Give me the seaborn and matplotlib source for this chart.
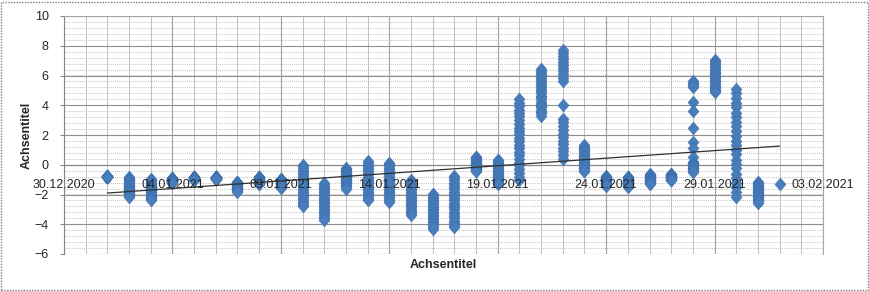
import numpy as np
import pandas as pd
import matplotlib
matplotlib.use("Agg")
import matplotlib.pyplot as plt
import matplotlib.dates as mdates
from matplotlib.path import Path
from matplotlib.patches import Rectangle
import seaborn as sns

# ---------------- data (hourly readings, grouped by day) ----------------
day_dates = [
    "2021-01-01", "2021-01-02", "2021-01-03", "2021-01-04", "2021-01-05",
    "2021-01-06", "2021-01-07", "2021-01-08", "2021-01-09", "2021-01-10",
    "2021-01-11", "2021-01-12", "2021-01-13", "2021-01-14", "2021-01-15",
    "2021-01-16", "2021-01-17", "2021-01-18", "2021-01-19", "2021-01-20",
    "2021-01-21", "2021-01-22", "2021-01-23", "2021-01-24", "2021-01-25",
    "2021-01-26", "2021-01-27", "2021-01-28", "2021-01-29", "2021-01-30",
    "2021-01-31", "2021-02-01",
]
day_values = [
    [-0.75, -0.75, -0.8, -0.8, -0.8, -0.85, -0.85, -0.8, -0.8, -0.75, -0.8, -0.8,
     -0.85, -0.8, -0.8, -0.75, -0.8, -0.85, -0.8, -0.8, -0.75, -0.8, -0.8, -0.85],
    [-0.85, -0.9, -0.95, -1.0, -1.05, -1.1, -1.15, -1.2, -1.3, -1.35, -1.4, -1.45,
     -1.5, -1.55, -1.6, -1.65, -1.7, -1.8, -1.85, -1.9, -1.95, -2.0, -2.1, -2.15],
    [-0.95, -1.0, -1.05, -1.1, -1.2, -1.25, -1.3, -1.35, -1.45, -1.5, -1.55, -1.6,
     -1.7, -1.75, -1.8, -1.85, -1.95, -2.0, -2.05, -2.1, -2.2, -2.25, -2.3, -2.35],
    [-0.9, -0.9, -0.9, -0.95, -0.95, -0.95, -0.95, -1.0, -1.0, -1.0, -1.0, -1.05,
     -1.05, -1.05, -1.05, -1.1, -1.1, -1.1, -1.1, -1.15, -1.15, -1.15, -1.2, -1.2],
    [-0.8, -0.8, -0.8, -0.8, -0.85, -0.85, -0.85, -0.85, -0.85, -0.9, -0.9, -0.9,
     -0.9, -0.9, -0.9, -0.95, -0.95, -0.95, -0.95, -0.95, -1.0, -1.0, -1.0, -1.0],
    [-0.85, -0.85, -0.85, -0.85, -0.85, -0.85, -0.85, -0.85, -0.9, -0.9, -0.9, -0.9,
     -0.9, -0.9, -0.9, -0.9, -0.95, -0.95, -0.95, -0.95, -0.95, -0.95, -0.95, -0.95],
    [-1.15, -1.15, -1.2, -1.2, -1.25, -1.25, -1.3, -1.3, -1.35, -1.35, -1.4, -1.45,
     -1.5, -1.5, -1.55, -1.55, -1.6, -1.6, -1.65, -1.65, -1.7, -1.7, -1.75, -1.8],
    [-0.8, -0.8, -0.85, -0.85, -0.9, -0.9, -0.95, -0.95, -1.0, -1.0, -1.0, -1.05,
     -1.05, -1.1, -1.1, -1.1, -1.15, -1.15, -1.2, -1.2, -1.25, -1.25, -1.3, -1.3],
    [-0.95, -0.95, -1.0, -1.0, -1.05, -1.05, -1.1, -1.1, -1.15, -1.15, -1.2, -1.2,
     -1.25, -1.25, -1.3, -1.3, -1.35, -1.35, -1.4, -1.4, -1.45, -1.5, -1.5, -1.55],
    [0.0, -0.1, -0.25, -0.35, -0.5, -0.6, -0.75, -0.85, -0.95, -1.1, -1.2, -1.35,
     -1.45, -1.6, -1.7, -1.8, -1.95, -2.05, -2.2, -2.3, -2.45, -2.55, -2.7, -2.8],
    [-1.2, -1.3, -1.4, -1.55, -1.65, -1.75, -1.85, -1.95, -2.05, -2.2, -2.3, -2.4,
     -2.5, -2.6, -2.7, -2.85, -2.95, -3.05, -3.15, -3.25, -3.35, -3.5, -3.6, -3.7],
    [-0.25, -0.3, -0.35, -0.4, -0.5, -0.55, -0.6, -0.65, -0.7, -0.75, -0.8, -0.9,
     -0.95, -1.0, -1.05, -1.1, -1.15, -1.2, -1.25, -1.35, -1.4, -1.45, -1.5, -1.6],
    [0.25, 0.15, 0.0, -0.1, -0.2, -0.3, -0.45, -0.55, -0.65, -0.8, -0.9, -1.0,
     -1.15, -1.25, -1.35, -1.5, -1.6, -1.7, -1.8, -1.95, -2.05, -2.15, -2.3, -2.4],
    [0.15, 0.05, -0.1, -0.2, -0.3, -0.45, -0.55, -0.65, -0.75, -0.9, -1.0, -1.1,
     -1.25, -1.35, -1.45, -1.6, -1.7, -1.8, -1.9, -2.05, -2.15, -2.25, -2.4, -2.5],
    [-1.0, -1.1, -1.2, -1.3, -1.4, -1.5, -1.6, -1.7, -1.85, -1.95, -2.05, -2.15,
     -2.25, -2.35, -2.45, -2.55, -2.65, -2.75, -2.85, -2.95, -3.1, -3.2, -3.3, -3.4],
    [-1.95, -2.05, -2.15, -2.25, -2.35, -2.45, -2.55, -2.65, -2.75, -2.85, -2.95, -3.05,
     -3.15, -3.25, -3.35, -3.45, -3.55, -3.65, -3.75, -3.85, -3.95, -4.05, -4.2, -4.3],
    [-0.75, -0.9, -1.05, -1.2, -1.35, -1.5, -1.65, -1.8, -1.95, -2.1, -2.25, -2.4,
     -2.55, -2.7, -2.85, -3.0, -3.15, -3.3, -3.45, -3.6, -3.75, -3.9, -4.05, -4.2],
    [0.55, 0.5, 0.45, 0.4, 0.35, 0.3, 0.25, 0.2, 0.15, 0.1, 0.05, 0.05,
     0.0, -0.05, -0.1, -0.15, -0.2, -0.25, -0.3, -0.3, -0.35, -0.4, -0.4, -0.45],
    [0.35, 0.3, 0.2, 0.15, 0.05, 0.0, -0.1, -0.15, -0.25, -0.3, -0.4, -0.45,
     -0.55, -0.6, -0.7, -0.75, -0.85, -0.9, -1.0, -1.05, -1.1, -1.2, -1.25, -1.3],
    [4.4, 4.15, 3.95, 3.7, 3.45, 3.25, 3.0, 2.75, 2.5, 2.3, 2.05, 1.8,
     1.6, 1.35, 1.1, 0.85, 0.65, 0.4, 0.15, -0.05, -0.3, -0.55, -0.8, -1.0],
    [6.45, 6.3, 6.2, 6.05, 5.9, 5.75, 5.65, 5.5, 5.35, 5.2, 5.1, 4.95,
     4.8, 4.65, 4.55, 4.4, 4.25, 4.1, 3.95, 3.85, 3.7, 3.55, 3.45, 3.3],
    [7.7, 7.5, 7.3, 7.1, 6.9, 6.7, 6.5, 6.3, 6.1, 5.85, 5.6, 4.0,
     3.1, 2.85, 2.6, 2.35, 2.1, 1.85, 1.6, 1.4, 1.15, 0.9, 0.65, 0.4],
    [1.3, 1.2, 1.15, 1.05, 1.0, 0.9, 0.85, 0.75, 0.65, 0.6, 0.5, 0.45,
     0.35, 0.3, 0.2, 0.1, 0.05, -0.05, -0.1, -0.2, -0.25, -0.35, -0.4, -0.45],
    [-0.75, -0.8, -0.8, -0.85, -0.85, -0.9, -0.9, -0.95, -0.95, -1.0, -1.0, -1.05,
     -1.05, -1.1, -1.1, -1.15, -1.15, -1.2, -1.25, -1.25, -1.3, -1.3, -1.35, -1.4],
    [-0.8, -0.85, -0.85, -0.9, -0.9, -0.95, -1.0, -1.0, -1.05, -1.05, -1.1, -1.15,
     -1.15, -1.2, -1.2, -1.25, -1.3, -1.3, -1.35, -1.35, -1.4, -1.45, -1.45, -1.5],
    [-0.65, -0.7, -0.7, -0.75, -0.75, -0.8, -0.8, -0.85, -0.85, -0.9, -0.95, -0.95,
     -1.0, -1.0, -1.05, -1.05, -1.1, -1.1, -1.15, -1.2, -1.2, -1.25, -1.25, -1.3],
    [-0.65, -0.65, -0.7, -0.7, -0.7, -0.75, -0.75, -0.75, -0.8, -0.8, -0.8, -0.85,
     -0.85, -0.85, -0.85, -0.9, -0.9, -0.9, -0.95, -0.95, -0.95, -1.0, -1.0, -1.0],
    [5.6, 5.5, 5.4, 5.3, 5.2, 4.2, 3.6, 2.5, 1.5, 1.15, 0.5, 0.2,
     0.15, 0.1, 0.05, 0.0, -0.05, -0.1, -0.2, -0.25, -0.3, -0.4, -0.45, -0.5],
    [7.05, 6.95, 6.85, 6.75, 6.65, 6.55, 6.45, 6.35, 6.25, 6.2, 6.1, 6.0,
     5.9, 5.8, 5.7, 5.6, 5.5, 5.4, 5.3, 5.2, 5.15, 5.05, 4.95, 4.9],
    [5.1, 4.8, 4.5, 4.15, 3.85, 3.5, 3.2, 2.9, 2.6, 2.25, 1.95, 1.6,
     1.3, 1.0, 0.7, 0.35, 0.05, -0.25, -0.6, -0.9, -1.2, -1.5, -1.85, -2.15],
    [-1.15, -1.2, -1.25, -1.3, -1.4, -1.45, -1.5, -1.55, -1.6, -1.7, -1.75, -1.8,
     -1.85, -1.9, -2.0, -2.05, -2.1, -2.15, -2.2, -2.3, -2.35, -2.4, -2.45, -2.55],
    [-1.3],
]
tick_dates = ["2020-12-30", "2021-01-04", "2021-01-09", "2021-01-14",
              "2021-01-19", "2021-01-24", "2021-01-29", "2021-02-03"]
tick_labels = ["30.12.2020", "04.01.2021", "09.01.2021", "14.01.2021",
               "19.01.2021", "24.01.2021", "29.01.2021", "03.02.2021"]
y_ticks = [-6, -4, -2, 0, 2, 4, 6, 8, 10]
x_title = "Achsentitel"
y_title = "Achsentitel"

# ---------------- table ----------------
rows = [(d, v) for d, vals in zip(day_dates, day_values) for v in vals]
df = pd.DataFrame(rows, columns=["date", "value"])
df["x"] = mdates.date2num(pd.to_datetime(df["date"]))
tick_x = mdates.date2num(pd.to_datetime(tick_dates))

# ---------------- style ----------------
sns.set_theme(style="white")
plt.rcParams["font.family"] = ["Liberation Sans", "DejaVu Sans"]

fig = plt.figure(figsize=(8.7, 2.91), dpi=100)
ax = fig.add_axes([64 / 870, 37 / 291, 759 / 870, 238 / 291])

x0, x1 = tick_x[0], tick_x[-1]
y0, y1 = y_ticks[0], y_ticks[-1]

# background gridlines (drawn manually so tick labels can sit above markers)
minor_y = np.arange(y0, y1 + 0.01, 0.4)
ax.hlines(minor_y, x0, x1, colors="#c4c4c4", lw=0.7, linestyles=(0, (1, 1)), zorder=0.5)
ax.hlines(y_ticks, x0, x1, colors="#8f8f8f", lw=0.8, zorder=0.6)
minor_x = np.arange(x0, x1 + 0.01, 1.0)
ax.vlines(minor_x, y0, y1, colors="#c0c0c0", lw=0.7, zorder=0.5)
ax.vlines(tick_x, y0, y1, colors="#a0a0a0", lw=0.8, zorder=0.6)

diamond = Path([(0, 1), (0.85, 0), (0, -1), (-0.85, 0), (0, 1)],
               [Path.MOVETO, Path.LINETO, Path.LINETO, Path.LINETO, Path.CLOSEPOLY])

sns.scatterplot(data=df, x="x", y="value", marker=diamond, s=88,
                color="#4a7ebb", edgecolor="#3c6fae", linewidth=0.3,
                legend=False, ax=ax, zorder=3)
sns.regplot(data=df, x="x", y="value", scatter=False, ci=None, truncate=True,
            line_kws=dict(color="#303030", lw=0.9, zorder=4), ax=ax)

ax.set_xlim(x0, x1)
ax.set_ylim(y0, y1)
ax.set_xlabel("")
ax.set_ylabel("")
ax.grid(False)

ax.set_yticks(y_ticks)
ax.set_xticks(tick_x)
ax.set_xticklabels(tick_labels)

ax.spines["bottom"].set_position(("data", 0))
for side in ["bottom", "left"]:
    ax.spines[side].set_color("#868686")
    ax.spines[side].set_linewidth(0.8)
    ax.spines[side].set_zorder(0.7)
for side in ["top", "right"]:
    ax.spines[side].set_color("#a6a6a6")
    ax.spines[side].set_linewidth(0.8)
    ax.spines[side].set_linestyle((0, (1, 1)))

ax.tick_params(axis="y", which="major", length=3, width=0.8, color="#868686",
               pad=8, labelsize=9, labelcolor="#262626", left=True)
ax.tick_params(axis="x", which="major", length=0, pad=10, labelsize=9,
               labelcolor="#262626")
ax.xaxis.set_zorder(6)

fig.text(27 / 870, 1 - 135 / 291, y_title, rotation=90, fontweight="bold",
         fontsize=9, ha="center", va="center", color="#262626")
fig.text(443 / 870, 1 - 265 / 291, x_title, fontweight="bold",
         fontsize=9, ha="center", va="center", color="#262626")

fig.add_artist(Rectangle((0.5 / 870, 1.5 / 291), 868 / 870, 288 / 291,
                         transform=fig.transFigure, fill=False, ec="#808080",
                         lw=1.0, ls=(0, (1, 1))))

fig.savefig("out.png", dpi=100)
